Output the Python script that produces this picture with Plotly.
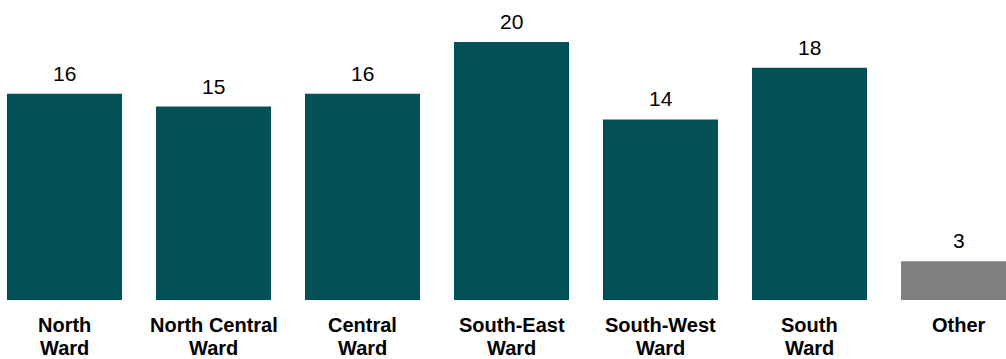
import plotly.graph_objects as go

categories = ["North<br>Ward", "North Central<br>Ward", "Central<br>Ward",
              "South-East<br>Ward", "South-West<br>Ward", "South<br>Ward", "Other"]
values = [16, 15, 16, 20, 14, 18, 3]
colors = ["#025156"] * 6 + ["#808080"]

x = list(range(len(categories)))

fig = go.Figure(go.Bar(x=x, y=values, marker=dict(color=colors, line=dict(width=0)),
                       hoverinfo="skip"))

annotations = []
for xi, v in zip(x, values):
    annotations.append(dict(x=xi, y=v, xref="x", yref="y", text=str(v), showarrow=False,
                            yanchor="bottom", yshift=7,
                            font=dict(family="Liberation Sans, Arial", size=21, color="#000")))
for xi, cat in zip(x, categories):
    for li, line in enumerate(cat.split("<br>")):
        annotations.append(dict(x=xi, y=0, xref="x", yref="paper", text="<b>%s</b>" % line,
                                showarrow=False, yanchor="middle",
                                yshift=-25 - 22.5 * li,
                                font=dict(family="Liberation Sans, Arial", size=20, color="#000")))

fig.update_layout(
    width=1006, height=359,
    margin=dict(l=0, r=0, t=0, b=59),
    paper_bgcolor="white", plot_bgcolor="white",
    bargap=0.228, showlegend=False,
    xaxis=dict(range=[-0.4329, 6.3188], showticklabels=False, showgrid=False,
               zeroline=False, showline=False, ticks=""),
    yaxis=dict(range=[0, 23.26], visible=False),
    annotations=annotations,
)

fig.write_html("out.html")
